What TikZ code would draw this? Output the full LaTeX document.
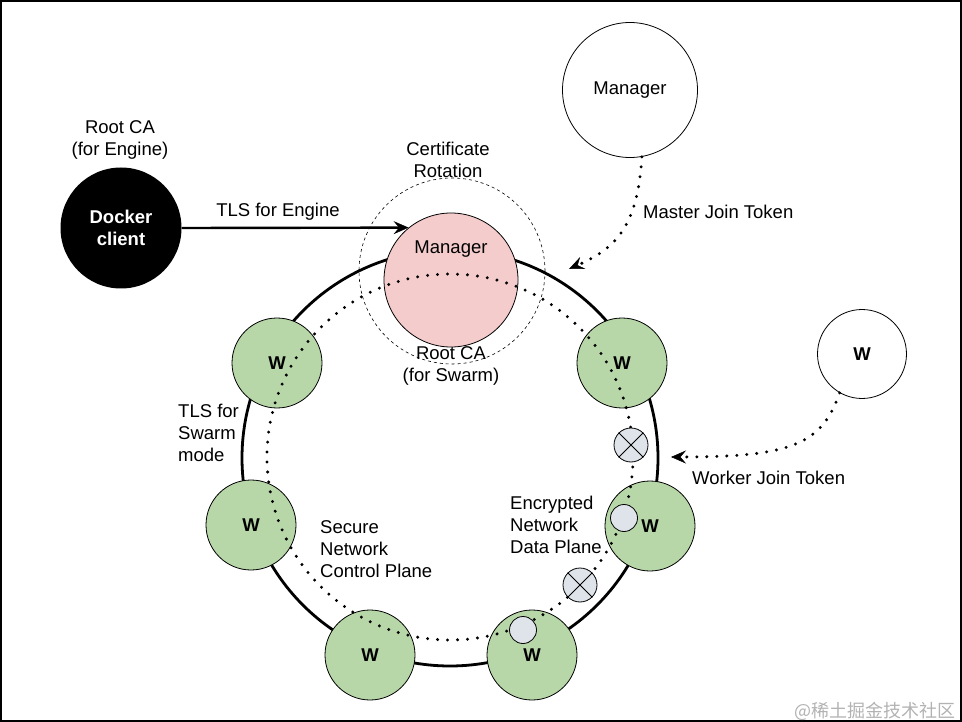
\documentclass[tikz,border=0pt]{standalone}
\usepackage{fontspec}
\setmainfont{Liberation Sans}
\newfontfamily\cjkfont{Noto Sans CJK SC}
\usetikzlibrary{arrows.meta}
\definecolor{wgreen}{RGB}{183,215,168}
\definecolor{mpink}{RGB}{244,204,204}
\definecolor{lblue}{RGB}{222,228,234}
\begin{document}
\begin{tikzpicture}[x=1pt,y=-1pt,
  lbl/.style={font=\fontsize{18.5}{22}\selectfont, inner sep=0pt},
  wnode/.style={circle, draw, line width=0.8pt, fill=wgreen, minimum size=90pt, inner sep=0pt, font=\fontsize{18.5}{22}\selectfont\bfseries},
  freenode/.style={circle, draw, line width=0.8pt, fill=white, inner sep=0pt},
  smallc/.style={circle, draw, line width=0.8pt, fill=lblue, minimum size=27pt, inner sep=0pt},
  xcirc/.style={circle, draw, line width=0.8pt, fill=lblue, minimum size=34pt, inner sep=0pt},
  dotline/.style={line width=3.3pt, line cap=round, dash pattern=on 0pt off 10pt},
  tip/.style={-{Stealth[length=15pt,width=13pt,inset=5.5pt,line width=0.5pt]}},
]
\useasboundingbox (0,0) rectangle (962,722);
\draw[line width=1.5pt] (1,1) rectangle (961,721);

% big ring
\node[circle, draw, line width=2.8pt, minimum size=416pt, inner sep=0pt] (ring) at (450,458) {};
% certificate rotation dashed circle
\node[circle, draw, dashed, line width=0.6pt, minimum size=186pt, inner sep=0pt] (cert) at (452,271) {};

% nodes
\node[circle, draw, line width=0.8pt, fill=mpink, minimum size=134pt, inner sep=0pt] (mgr) at (451,280) {};
\node[lbl] (mgrtxt) at (451,249) {Manager};
\node[circle, fill=black, minimum size=121pt, inner sep=0pt, align=center, text=white,
      font=\fontsize{18.5}{22}\selectfont\bfseries] (dc) at (121,228) {Docker\\client};
\node[freenode, minimum size=135pt, lbl] (mgr2) at (630,90) {Manager};
\node[freenode, minimum size=89pt, font=\fontsize{18.5}{22}\selectfont\bfseries] (wfree) at (862,354) {W};

\node[wnode] (w1) at (277,363) {W};
\node[wnode] (w2) at (622,363) {W};
\node[wnode] (w3) at (251,525) {W};
\node[wnode] (w4) at (650,526) {W};
\node[wnode] (w5) at (370,655) {W};
\node[wnode] (w6) at (532,655) {W};

% dotted control plane
\node[circle, draw, dotline, minimum size=366pt, inner sep=0pt] (dotring) at (450,457) {};

% small circles on top
\node[smallc] (s4) at (624,518) {};
\node[smallc] (s6) at (523,630) {};
\node[xcirc] (x1) at (631,445) {};
\draw[line width=0.8pt] (x1.45) -- (x1.225) (x1.135) -- (x1.315);
\node[xcirc] (x2) at (580,585) {};
\draw[line width=0.8pt] (x2.45) -- (x2.225) (x2.135) -- (x2.315);

% connectors
\draw[line width=2.4pt, tip] (dc.east) -- (mgr.129);
\coordinate (mtip) at (569,269);
\draw[dotline, tip] (mgr2.-80) .. controls (638,230) and (612,250) .. (mtip);
\coordinate (wtip) at (671,457);
\draw[dotline, tip] (wfree.-120) .. controls (822,445) and (790,457) .. (wtip);

% labels
\node[lbl, align=center] (rce) at (120,140) {Root CA\\(for Engine)};
\node[lbl] (tlse) at (278,212) {TLS for Engine};
\node[lbl, align=center] (crot) at (448,160) {Certificate\\Rotation};
\node[lbl, align=center] (rcs) at (451,366) {Root CA\\(for Swarm)};
\node[lbl, anchor=west] (mjt) at (643,212) {Master Join Token};
\node[lbl, anchor=west] (wjt) at (692,478) {Worker Join Token};
\node[lbl, anchor=west, align=left] (tlss) at (178,433) {TLS for\\Swarm\\mode};
\node[lbl, anchor=west, align=left] (sncp) at (320,549) {Secure\\Network\\Control Plane};
\node[lbl, anchor=west, align=left] (endp) at (510,525) {Encrypted\\Network\\Data Plane};
\node[inner sep=0pt, anchor=east, text=black!30, font=\fontsize{18}{22}\selectfont] (wm) at (956,711) {{\cjkfont @稀土掘金技术社区}};
\end{tikzpicture}
\end{document}
